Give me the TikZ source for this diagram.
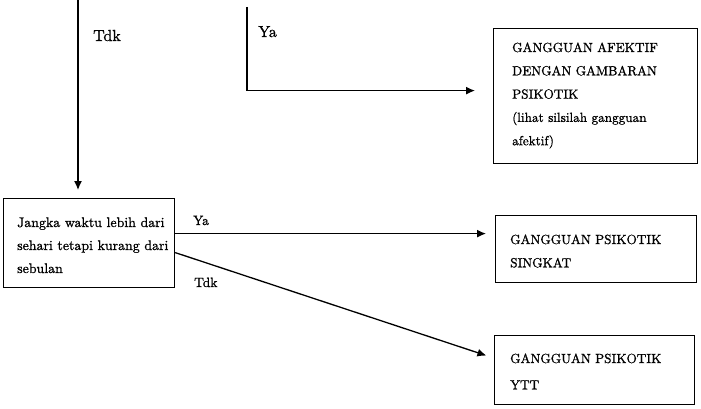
\documentclass[tikz,border=0pt]{standalone}
\usepackage{fontspec}
\setmainfont{lmroman10-regular.otf}[FakeBold=1]
\usetikzlibrary{arrows.meta,calc}
\begin{document}
\begin{tikzpicture}[x=1pt,y=-1pt,
  box/.style={draw, line width=1.2pt, inner sep=0pt, anchor=north west},
  txt/.style={anchor=base west, align=left, inner sep=0pt, text width=190pt,
              font=\fontsize{13.2}{23.3}\selectfont},
  lbl/.style={anchor=base west, inner sep=0pt, font=\fontsize{13.5}{16}\selectfont},
  biglbl/.style={lbl, font=\fontsize{16}{18}\selectfont},
  conn/.style={line width=1.3pt},
  arr/.style={conn, -{Latex[length=9pt,width=8pt]}}]
\useasboundingbox (0,0) rectangle (701,409);

% boxes
\node[box, minimum width=171pt, minimum height=89pt] (jangka) at (3,198) {};
\node[box, minimum width=204pt, minimum height=135pt] (afek) at (493,28) {};
\node[box, minimum width=201pt, minimum height=67pt] (singkat) at (495,215) {};
\node[box, minimum width=200pt, minimum height=69pt] (ytt) at (494,335) {};

% box texts
\node[txt, text width=165pt, font=\fontsize{13.9}{23}\selectfont] (jangkatext) at (17,227)
  {Jangka waktu lebih dari\\sehari tetapi kurang dari\\sebulan};
\node[txt] (afektext) at (512,52)
  {GANGGUAN AFEKTIF\\DENGAN GAMBARAN\\PSIKOTIK\\(lihat silsilah gangguan\\afektif)};
\node[txt] (singkattext) at (510,244) {GANGGUAN PSIKOTIK\\SINGKAT};
\node[txt] (ytttext) at (510,363) {GANGGUAN PSIKOTIK\\[3pt]YTT};

% free ends
\coordinate (top1) at (78,0);
\coordinate (top2) at (247,7);

% connectors
\draw[arr, shorten >=8pt] (top1) -- (jangka.north -| top1);
\draw[arr, shorten >=18pt] (top2) |- ($(afek.west)+(0,-5.5)$);
\coordinate (yastart) at ($(jangka.east)+(0,-9.5)$);
\draw[arr, shorten >=9pt] (yastart) -- (yastart -| singkat.west);
\draw[arr, shorten >=8pt] ($(jangka.east)+(0,9.5)$) -- ($(ytt.west)+(0,-12)$);

% labels
\node[biglbl] (tdk1) at (93,41) {Tdk};
\node[biglbl] (ya1) at (258,37) {Ya};
\node[lbl] (ya2) at (193,225) {Ya};
\node[lbl] (tdk2) at (194,287) {Tdk};
\end{tikzpicture}
\end{document}
